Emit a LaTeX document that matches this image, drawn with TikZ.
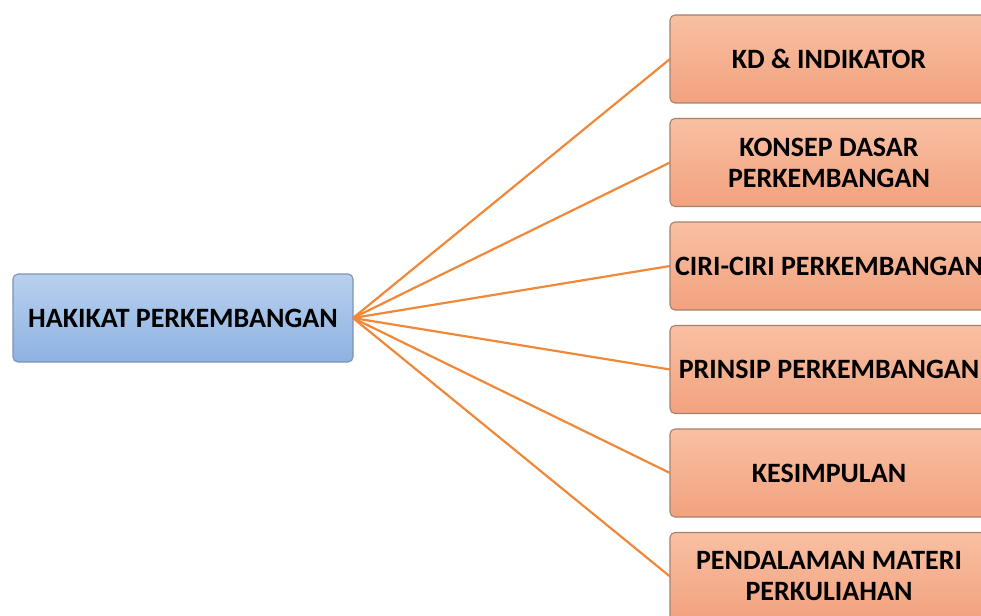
\documentclass[tikz,border=0pt]{standalone}
\usepackage{fontspec}
\setmainfont{Carlito}
\usepackage{tikz}
\usetikzlibrary{positioning}

\definecolor{bluetop}{HTML}{B9D0EE}
\definecolor{bluebot}{HTML}{8DB2E2}
\definecolor{blueline}{HTML}{7D93B3}
\definecolor{orangetop}{HTML}{F8C0A3}
\definecolor{orangebot}{HTML}{F2A27E}
\definecolor{orangeline}{HTML}{A8806E}
\definecolor{linkcol}{HTML}{F0883A}

\begin{document}
\begin{tikzpicture}[x=1pt,y=1pt]
	\useasboundingbox (0,0) rectangle (981,-615);
	\clip (0,0) rectangle (981,-615);
	\begin{scope}[every node/.style={rectangle,rounded corners=5pt,line width=1.1pt,outer sep=0pt,minimum height=88pt,inner xsep=2pt,align=center,font=\fontsize{28}{31}\selectfont\bfseries}]
		\node[draw=blueline,top color=bluetop,bottom color=bluebot,minimum width=340pt] (hakikat) at (183,-318) {HAKIKAT PERKEMBANGAN};
		\begin{scope}[every node/.append style={draw=orangeline,top color=orangetop,bottom color=orangebot,minimum width=318pt}]
			\node[anchor=north west] (kd) at (670,-15) {KD \& INDIKATOR};
			\node[below =15.5pt of kd.south west,anchor=north west] (konsep) {KONSEP DASAR\\PERKEMBANGAN};
			\node[below =15.5pt of konsep.south west,anchor=north west] (ciri) {CIRI-CIRI PERKEMBANGAN};
			\node[below =15.5pt of ciri.south west,anchor=north west] (prinsip) {PRINSIP PERKEMBANGAN};
			\node[below =15.5pt of prinsip.south west,anchor=north west] (kesimpulan) {KESIMPULAN};
			\node[below =15.5pt of kesimpulan.south west,anchor=north west] (pendalaman) {PENDALAMAN MATERI\\PERKULIAHAN};
		\end{scope}
	\end{scope}

	\begin{scope}[line width=2.2pt,linkcol]
	\foreach \n in {kd,konsep,ciri,prinsip,kesimpulan,pendalaman}
		\draw (hakikat.east) -- (\n.west);
	\end{scope}
\end{tikzpicture}
\end{document}
